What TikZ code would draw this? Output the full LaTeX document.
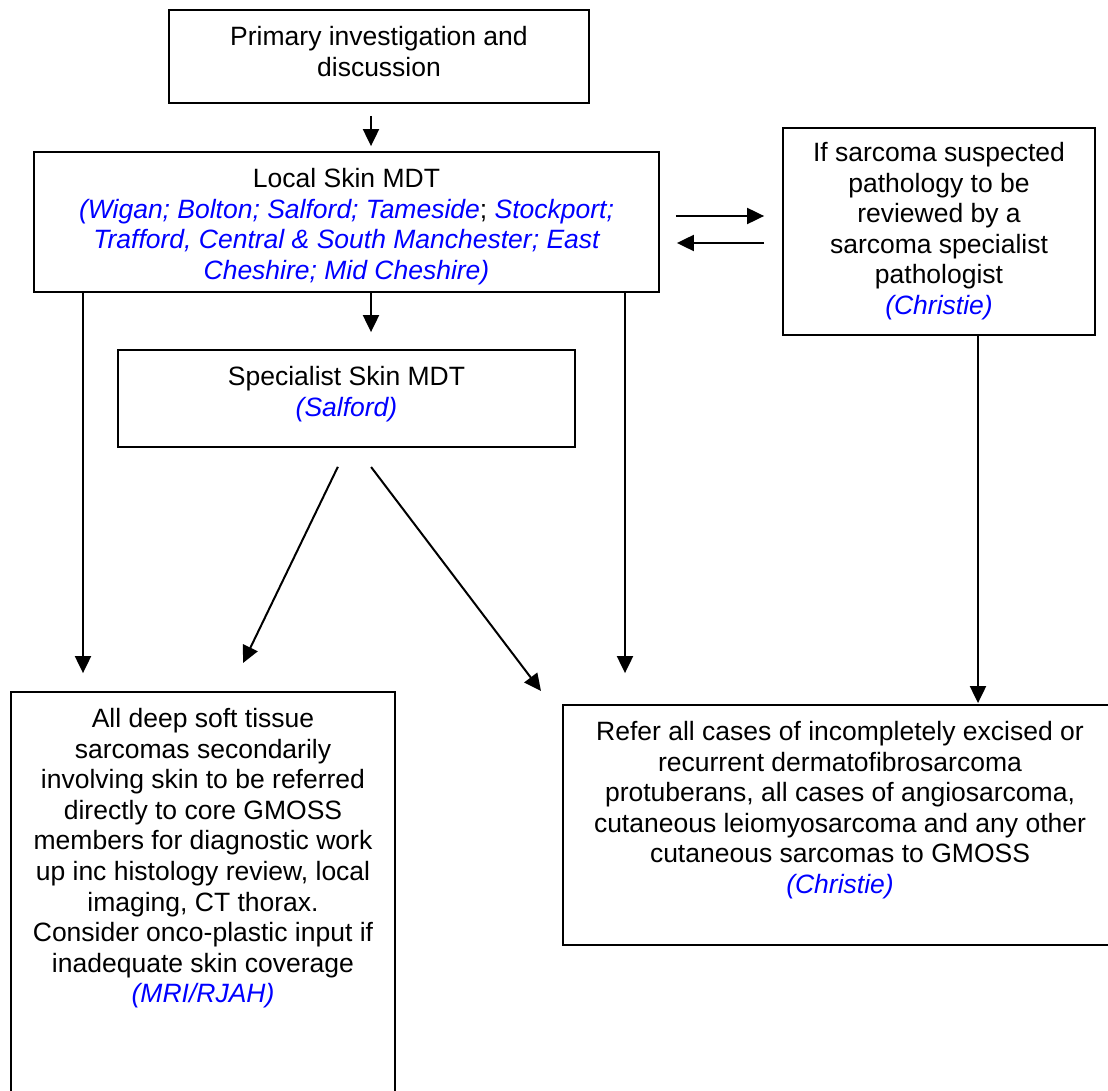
\documentclass[tikz,border=0pt]{standalone}
\usepackage{fontspec}
\setmainfont{Liberation Sans}
\usetikzlibrary{arrows.meta}
\definecolor{placeblue}{RGB}{0,0,255}
\newcommand{\place}[1]{{\color{placeblue}\itshape #1}}

\begin{document}
\begin{tikzpicture}[x=1pt,y=-1pt,
  box/.style={draw=black, line width=1.8pt, rectangle, inner sep=0pt},
  txt/.style={anchor=north, align=center, inner sep=0pt,
              font=\fontsize{26.5}{30.6}\selectfont},
  arr/.style={line width=2pt, -{Triangle[length=17pt,width=16pt]}},
]
\useasboundingbox (0,0) rectangle (1108,1091);
\clip (0,0) rectangle (1108,1091);

% boxes
\node[box, minimum width=420pt, minimum height=93pt]  (top)   at (379,56.5)  {};
\node[box, minimum width=625pt, minimum height=140pt] (local) at (346.5,222) {};
\node[box, minimum width=312pt, minimum height=207pt] (path)  at (939,231.5) {};
\node[box, minimum width=457pt, minimum height=97pt]  (spec)  at (346.5,398.5) {};
\node[box, minimum width=384pt, minimum height=418pt] (bl)    at (203,901) {};
\node[box, minimum width=554pt, minimum height=240pt] (br)    at (840,825) {};

% box texts
\node[txt] (toptext) at ([yshift=-17pt]top.north)
  {Primary investigation and\\discussion};
\node[txt] (localtext) at ([yshift=-17pt]local.north)
  {Local Skin MDT\\
   \place{(Wigan; Bolton; Salford; Tameside}; \place{Stockport;}\\
   \place{Trafford, Central \& South Manchester; East}\\
   \place{Cheshire; Mid Cheshire)}};
\node[txt] (pathtext) at ([yshift=-15pt]path.north)
  {If sarcoma suspected\\pathology to be\\reviewed by a\\sarcoma specialist\\pathologist\\
   \place{(Christie)}};
\node[txt] (spectext) at ([yshift=-17pt]spec.north)
  {Specialist Skin MDT\\\place{(Salford)}};
\node[txt] (bltext) at ([yshift=-17pt]bl.north)
  {All deep soft tissue\\sarcomas secondarily\\involving skin to be referred\\
   directly to core GMOSS\\members for diagnostic work\\up inc histology review, local\\
   imaging, CT thorax.\\Consider onco-plastic input if\\inadequate skin coverage\\
   \place{(MRI/RJAH)}};
\node[txt] (brtext) at ([yshift=-17pt]br.north)
  {Refer all cases of incompletely excised or\\recurrent dermatofibrosarcoma\\
   protuberans, all cases of angiosarcoma,\\cutaneous leiomyosarcoma and any other\\
   cutaneous sarcomas to GMOSS\\\place{(Christie)}};

% columns, rows and free ends of the connectors
\coordinate (cmid)   at (371,0);
\coordinate (cleft)  at (83,0);
\coordinate (cright) at (625,0);
\coordinate (cpath)  at (978,0);
\coordinate (rowA)   at (0,216);
\coordinate (rowB)   at (0,243);
\coordinate (dsl)    at (347,0);
\coordinate (dsr)    at (356.6,0);
\coordinate (dendL)  at (243,663);
\coordinate (dendR)  at (541,691);

% connectors
\draw[arr, shorten <=12pt, shorten >=5pt] (top.south -| cmid) -- (local.north -| cmid);
\draw[arr, shorten >=17pt] (local.south -| cmid) -- (spec.north -| cmid);
\draw[arr, shorten >=18pt] (local.south -| cleft) -- (bl.north -| cleft);
\draw[arr, shorten >=31pt] (local.south -| cright) -- (br.north -| cright);
\draw[arr, shorten >=1pt] (path.south -| cpath) -- (br.north -| cpath);
\draw[arr, shorten <=16pt, shorten >=18pt] (local.east |- rowA) -- (path.west |- rowA);
\draw[arr, shorten <=18pt, shorten >=17pt] (path.west |- rowB) -- (local.east |- rowB);
\draw[arr, shorten <=21pt] (spec.south -| dsl) -- (dendL);
\draw[arr, shorten <=24pt] (spec.south -| dsr) -- (dendR);
\end{tikzpicture}
\end{document}
